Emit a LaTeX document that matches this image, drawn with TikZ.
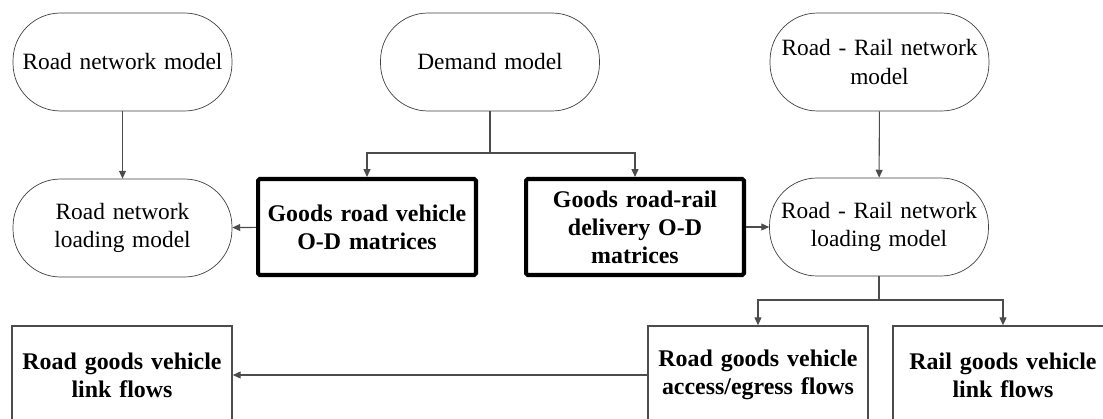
\documentclass[tikz,border=0pt]{standalone}
\usepackage{fontspec}
\setmainfont{Liberation Serif}
\usepackage{tikz}
\usetikzlibrary{arrows.meta}
\usetikzlibrary{positioning}
\usetikzlibrary{calc}
\tikzset{
  >={Triangle[length=4.5pt,width=4pt]},
  line/.style={draw, ->}
}

\begin{document}
\begin{tikzpicture}[
    x=0.02cm, y=-0.02cm,
    font=\fontsize{13.3}{16}\selectfont,
    model/.style={rectangle, draw=black!75, thin, rounded corners=0.95cm,
               fill=white, text width=4.1cm, align=center,
               minimum width=4.38cm, minimum height=1.96cm, inner sep=0pt},
    matrixbox/.style={rectangle, draw=black, line width=2.3pt, rounded corners=1pt,
               fill=white, text width=4.1cm, align=center, font=\fontsize{13.6}{16}\selectfont\bfseries,
               minimum width=4.36cm, minimum height=1.92cm, inner sep=0pt},
    flowbox/.style={rectangle, draw=black!70, line width=0.9pt,
               fill=white, text width=4.1cm, align=center, font=\fontsize{13.6}{16}\selectfont\bfseries,
               minimum width=4.4cm, minimum height=1.96cm, inner sep=0pt},
    arrow/.style={->, draw=black!70, line width=0.6pt}
]
\useasboundingbox (0,0) rectangle (1103,419);
\clip (0,0) rectangle (1103,419);

% Models
\node[model] (roadnet) at (122.5,62) {Road network model};
\node[model] (demand) at (490,62) {Demand model};
\node[model] (railnet) at (879.5,62) {Road - Rail network\\model};
\node[model] (roadload) at (122.5,228) {Road network\\loading model};
\node[model] (railload) at (879,227) {Road - Rail network\\loading model};

% O-D matrices
\node[matrixbox] (odroad) at (367,227) {Goods road vehicle\\O-D matrices};
\node[matrixbox] (odrail) at (635,227) {Goods road-rail\\delivery O-D\\matrices};

% Link flows
\node[flowbox] (roadflow) at (122,375) {Road goods vehicle\\link flows};
\node[flowbox] (accflow) at (758,375) {Road goods vehicle\\access/egress flows};
\node[flowbox] (railflow) at (1003,375) {Rail goods vehicle\\link flows};

% Split points
\coordinate (split1) at (490,153);
\coordinate (split2) at (879,300);

% Connections
\draw[arrow] (roadnet) -- (roadload);
\draw[arrow] (railnet) -- (railload);
\draw[draw=black!70, line width=0.6pt] (demand) -- (split1);
\draw[arrow] (split1) -| (odroad.north);
\draw[arrow] (split1) -| (odrail.north);
\draw[arrow] (odroad) -- (roadload);
\draw[arrow] (odrail) -- (railload);
\draw[draw=black!70, line width=0.6pt] (railload) -- (split2);
\draw[arrow] (split2) -| (accflow.north);
\draw[arrow] (split2) -| (railflow.north);
\draw[arrow] (accflow) -- (roadflow);

\end{tikzpicture}
\end{document}
